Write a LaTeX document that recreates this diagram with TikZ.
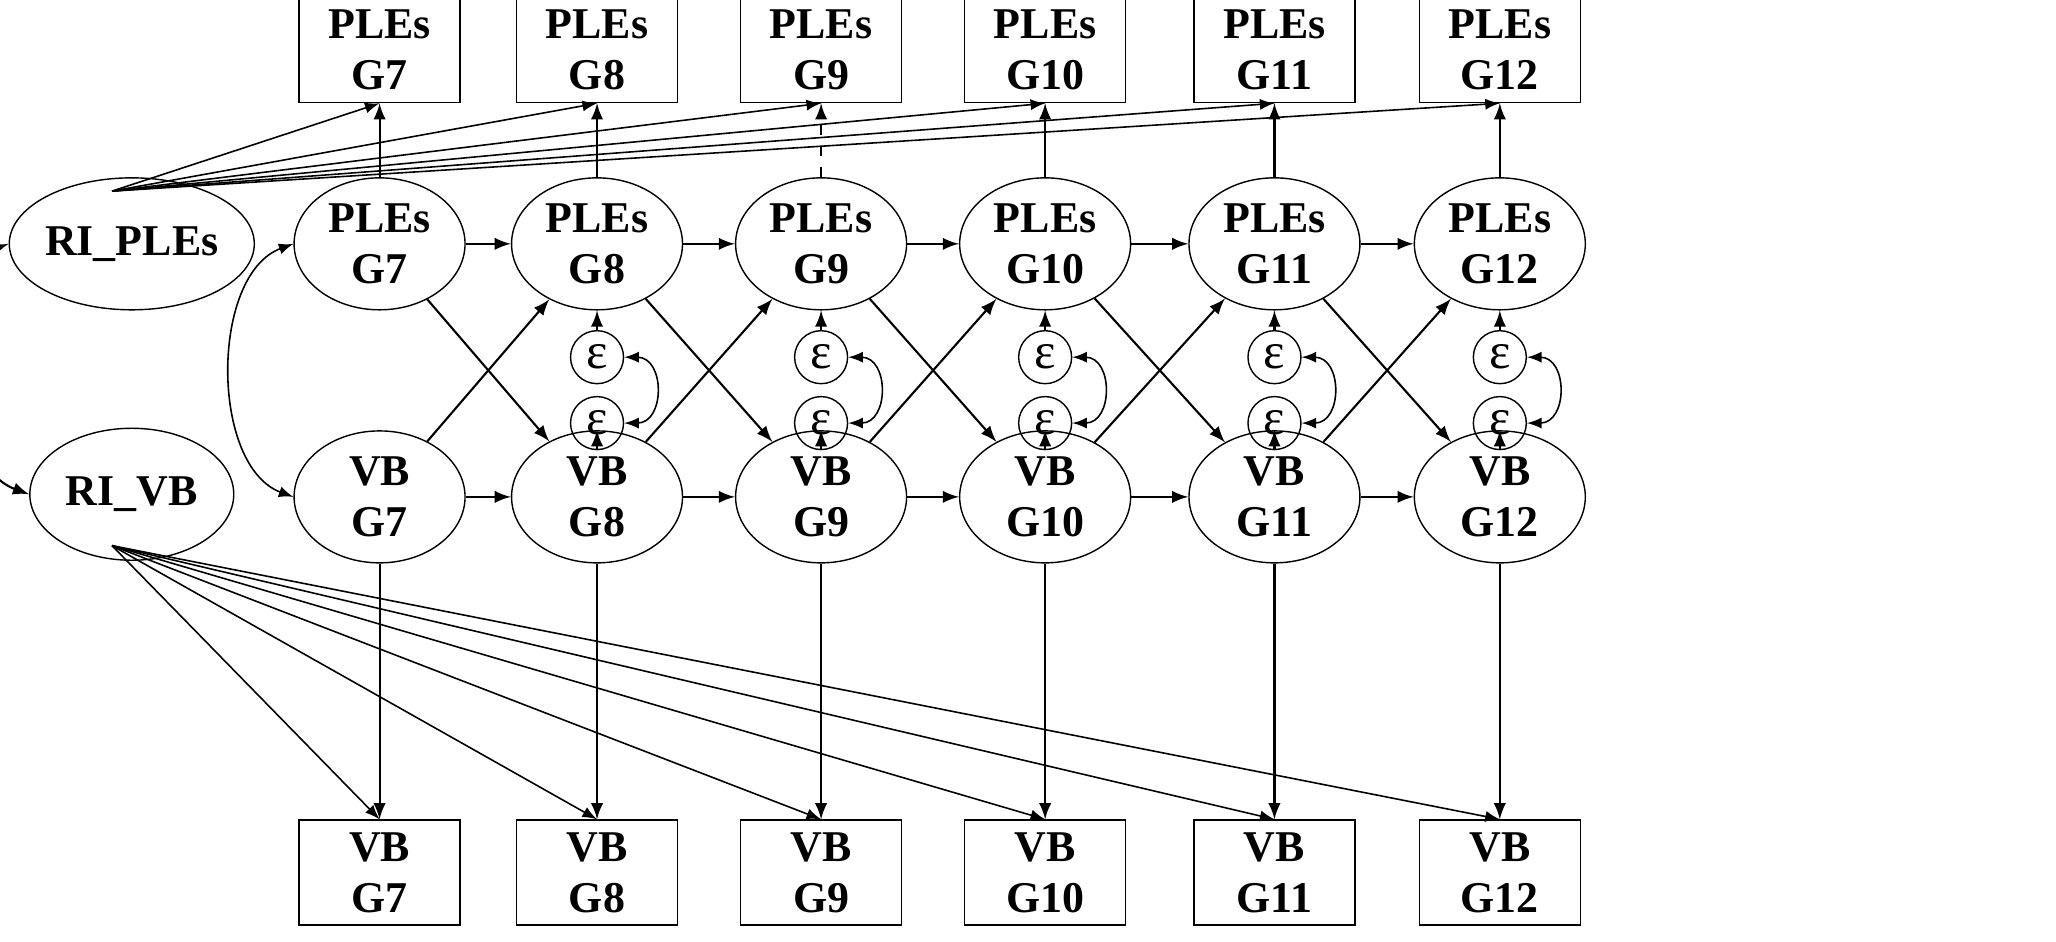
\documentclass[tikz,border=0pt]{standalone}
\usepackage{fontspec}
\setmainfont{Liberation Serif}
\usetikzlibrary{shapes.geometric}
\begin{document}
\begin{tikzpicture}[x=0.01318cm,y=-0.01318cm,
 lat/.style={draw,ellipse,minimum width=1.71cm,minimum height=1.32cm,inner sep=0pt,align=center,font=\fontsize{12.5}{14.5}\selectfont\bfseries},
 ri/.style={lat,minimum width=2.04cm},
 obs/.style={draw,rectangle,minimum width=1.61cm,minimum height=1.05cm,inner sep=0pt,align=center,font=\fontsize{12.5}{14.5}\selectfont\bfseries},
 eps/.style={draw,circle,minimum size=0.53cm,inner sep=0pt,font=\fontsize{14.5}{15}\selectfont},
 ar/.style={-latex,line width=0.6pt},
 dar/.style={latex-latex,line width=0.6pt},
 thin/.style={-latex,line width=0.45pt}]
\useasboundingbox (0,0) rectangle (1560,714);
\node[ri] (rip) at (100,185) {RI\_PLEs};
\node[ri] (riv) at (100,375) {RI\_VB};
\foreach \i/\x in {7/288,8/453,9/623,10/793,11/967,12/1138}{
 \node[obs] (bp\i) at (\x,38) {PLEs\\G\i};
 \node[lat] (p\i) at (\x,185) {PLEs\\G\i};
 \node[lat] (v\i) at (\x,377) {VB\\G\i};
 \node[obs] (bv\i) at (\x,662) {VB\\G\i};
 \draw[ar] (v\i) -- (bv\i);
}
\foreach \i in {7,8,10,11,12}{\draw[ar] (p\i) -- (bp\i);}
\draw[ar,dashed] (p9) -- (bp9);
\coordinate (rpo) at (85,145);
\coordinate (rvo) at (85,414);
\foreach \i in {7,...,12}{
 \draw[thin] (rpo) -- (bp\i.south);
 \draw[thin] (rvo) -- (bv\i.north);
}
\foreach \i/\j in {7/8,8/9,9/10,10/11,11/12}{
 \draw[ar] (p\i.east) -- (p\j.west);
 \draw[ar] (v\i.east) -- (v\j.west);
 \draw[ar] (p\i) -- (v\j);
 \draw[ar] (v\i) -- (p\j);
}
\foreach \i in {8,...,12}{
 \node[eps] (eu\i) at ([yshift=-86*0.01318cm]p\i) {ε};
 \node[eps] (el\i) at ([yshift=-136*0.01318cm]p\i) {ε};
 \draw[ar] (eu\i) -- (p\i);
 \draw[ar] (el\i) -- (v\i);
 \draw[dar,line width=0.45pt] (eu\i.east) to[out=0,in=0,looseness=1.6] (el\i.east);
}
\draw[dar] (rip.west) to[out=200,in=160,looseness=0.9] (riv.west);
\draw[dar,line width=0.45pt] (p7.west) to[out=200,in=160,looseness=0.9] (v7.west);
\end{tikzpicture}
\end{document}
